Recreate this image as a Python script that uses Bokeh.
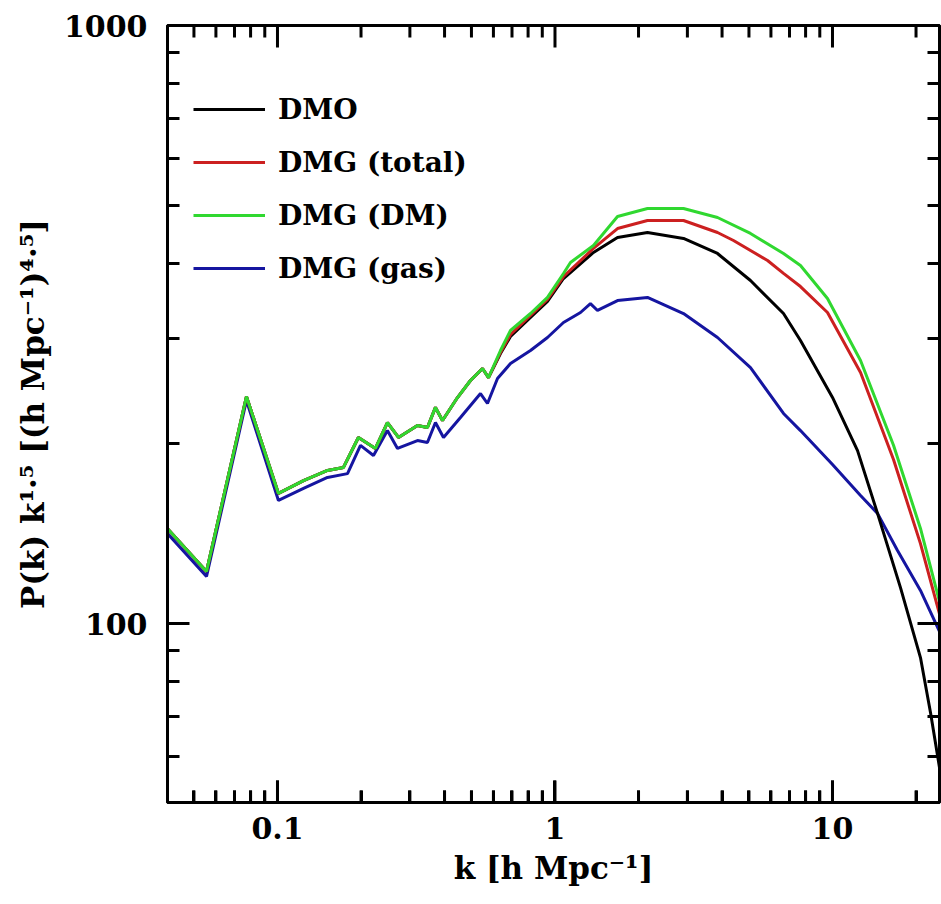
from bokeh.plotting import figure
from bokeh.models import (Range1d, FixedTicker, LogAxis, Legend, LegendItem,
                          CustomJSTickFormatter)
from bokeh.embed import file_html
from bokeh.resources import INLINE

# ---------------- data ----------------
# shared low-k part: DMO, DMG(total) and DMG(DM) coincide there
common_k = [0.0401, 0.0555, 0.0773, 0.1008, 0.1241, 0.1514, 0.1729, 0.1957, 0.2254,
            0.2490, 0.2729, 0.3195, 0.3470, 0.3709, 0.3932, 0.4453, 0.4960, 0.5480, 0.5760]
common_p = [144.2, 122.2, 239.7, 165.0, 173.4, 180.3, 182.4, 204.7, 196.2,
            216.8, 204.7, 214.3, 212.7, 229.8, 218.5, 238.7, 254.9, 267.0, 257.8]

dmo_k = [0.6362, 0.6913, 0.8161, 0.9397, 1.073, 1.376, 1.680, 2.154, 2.905, 3.852,
         5.064, 6.660, 7.667, 10.0, 12.31, 14.53, 17.58, 20.75, 22.55, 24.50]
dmo_p = [282.8, 302.0, 324.9, 345.6, 377.5, 417.3, 442.2, 450.7, 440.4, 415.7,
         374.6, 329.9, 297.3, 238.8, 194.6, 152.8, 114.8, 87.7, 71.0, 56.1]

tot_k = [0.6362, 0.6913, 0.8161, 0.9397, 1.073, 1.376, 1.680, 2.154, 2.905, 3.852,
         4.398, 5.834, 6.660, 7.667, 9.594, 12.62, 16.59, 20.75, 24.50]
tot_p = [284.0, 304.3, 327.4, 348.3, 380.4, 423.8, 457.6, 472.0, 472.0, 450.7,
         437.0, 404.6, 385.0, 366.0, 331.2, 262.9, 188.0, 136.0, 102.3]

dm_k = [0.6362, 0.6913, 0.8161, 0.9397, 1.073, 1.137, 1.376, 1.680, 2.154, 2.905,
        3.852, 5.064, 6.660, 7.667, 9.594, 12.62, 16.59, 20.75, 24.50]
dm_p = [286.1, 309.0, 329.9, 351.0, 384.8, 401.5, 428.7, 479.4, 494.3, 494.3,
        477.5, 449.0, 415.7, 396.9, 349.5, 275.3, 198.6, 144.2, 107.2]

gas_k = [0.0401, 0.0555, 0.0773, 0.1008, 0.1241, 0.1514, 0.1788, 0.1991, 0.2218,
         0.2490, 0.2707, 0.3195, 0.3470, 0.3709, 0.3965, 0.4565, 0.5390, 0.5711,
         0.6206, 0.6913, 0.8161, 0.9397, 1.073, 1.236, 1.342, 1.423, 1.680, 2.154,
         2.905, 3.852, 5.064, 6.660, 7.667, 10.0, 12.62, 14.53, 17.15, 20.75, 24.50]
gas_p = [141.5, 119.9, 236.0, 160.6, 168.2, 175.5, 178.1, 198.6, 191.0,
         210.2, 196.2, 202.3, 200.8, 216.8, 204.7, 221.1, 242.4, 233.3,
         256.9, 272.1, 286.1, 300.8, 318.7, 331.2, 342.8, 333.8, 346.8, 351.0,
         329.9, 300.8, 267.9, 224.5, 210.2, 184.4, 163.7, 152.8, 132.5, 113.6, 96.2]

labels = ["DMO", "DMG (total)", "DMG (DM)", "DMG (gas)"]
colors = ["#000000", "#cc2020", "#30d830", "#1515a0"]

x_major = [0.1, 1, 10]
x_minor = [0.05, 0.06, 0.07, 0.08, 0.09, 0.2, 0.3, 0.4, 0.5, 0.6, 0.7, 0.8, 0.9,
           2, 3, 4, 5, 6, 7, 8, 9, 20]
y_major = [100, 1000]
y_minor = [60, 70, 80, 90, 200, 300, 400, 500, 600, 700, 800, 900]

X_LO, X_HI = 0.04015, 24.3
Y_LO, Y_HI = 50.2, 1000

FONT = "DejaVu Serif"

p = figure(width=941, height=904, x_axis_type="log", y_axis_type="log",
           x_range=Range1d(X_LO, X_HI), y_range=Range1d(Y_LO, Y_HI),
           output_backend="svg", toolbar_location=None,
           min_border_left=167, min_border_right=2, min_border_top=25,
           min_border_bottom=102)
p.grid.visible = False
p.outline_line_color = "black"
p.outline_line_width = 3


def style(ax, major, minor, show):
    ax.ticker = FixedTicker(ticks=major, minor_ticks=minor)
    ax.major_tick_in = 22
    ax.major_tick_out = 0
    ax.minor_tick_in = 12
    ax.minor_tick_out = 0
    ax.major_tick_line_width = 3
    ax.minor_tick_line_width = 3
    ax.major_tick_line_color = "black"
    ax.minor_tick_line_color = "black"
    ax.axis_line_width = 3
    ax.axis_line_color = "black"
    if show:
        ax.formatter = CustomJSTickFormatter(code="return String(tick)")
        ax.major_label_text_font = FONT
        ax.major_label_text_font_style = "bold"
        ax.major_label_text_font_size = "30px"
        ax.major_label_text_color = "black"
        ax.axis_label_text_font = FONT
        ax.axis_label_text_font_style = "bold"
        ax.axis_label_text_font_size = "31px"
        ax.axis_label_text_color = "black"
    else:
        ax.formatter = CustomJSTickFormatter(code="return ''")
        ax.major_label_text_font_size = "1px"
        ax.major_label_text_alpha = 0
        ax.major_label_standoff = 0


xa = p.xaxis[0]
style(xa, x_major, x_minor, True)
xa.major_label_standoff = 14
xa.axis_label = "k [h Mpc⁻¹]"
xa.axis_label_standoff = 8

ya = p.yaxis[0]
style(ya, y_major, y_minor, True)
ya.major_label_standoff = 20
ya.axis_label = "P(k) k¹·⁵ [(h Mpc⁻¹)⁴·⁵]"
ya.axis_label_standoff = 10

right = LogAxis()
style(right, y_major, y_minor, False)
p.add_layout(right, "right")

# k-axis tick marks on the bottom and top frame edges, pointing inward
tick_kw = dict(line_color="black", line_width=3, length_units="screen", angle_units="deg")
p.ray(x=x_major, y=[Y_LO] * len(x_major), length=22, angle=90, **tick_kw)
p.ray(x=x_minor, y=[Y_LO] * len(x_minor), length=12, angle=90, **tick_kw)
p.ray(x=x_major, y=[Y_HI] * len(x_major), length=22, angle=270, **tick_kw)
p.ray(x=x_minor, y=[Y_HI] * len(x_minor), length=12, angle=270, **tick_kw)

r_gas = p.line(gas_k, gas_p, line_color=colors[3], line_width=3)
r_dmo = p.line(common_k + dmo_k, common_p + dmo_p, line_color=colors[0], line_width=3)
r_tot = p.line(common_k + tot_k, common_p + tot_p, line_color=colors[1], line_width=3)
r_dm = p.line(common_k + dm_k, common_p + dm_p, line_color=colors[2], line_width=3)

legend = Legend(items=[LegendItem(label=labels[0], renderers=[r_dmo]),
                       LegendItem(label=labels[1], renderers=[r_tot]),
                       LegendItem(label=labels[2], renderers=[r_dm]),
                       LegendItem(label=labels[3], renderers=[r_gas])],
                location=(26, 514), glyph_width=72, glyph_height=40,
                label_height=40, spacing=13, padding=0, margin=0,
                label_standoff=13, label_text_font=FONT,
                label_text_font_style="bold", label_text_font_size="28px",
                label_text_color="black",
                border_line_color=None, background_fill_alpha=0)
p.add_layout(legend)

open("out.html", "w").write(file_html(p, INLINE))
